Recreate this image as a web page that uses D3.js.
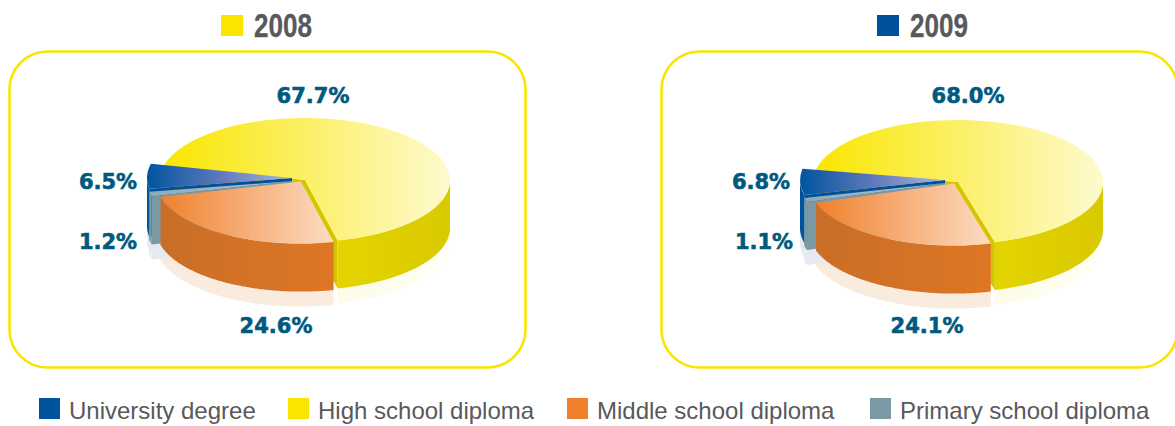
<!DOCTYPE html>
<html>
<head>
<meta charset="utf-8">
<script src="https://cdn.jsdelivr.net/npm/d3@7/dist/d3.min.js"></script>
<style>
  html, body { margin: 0; padding: 0; background: #fff; overflow: hidden; }
  svg { display: block; }
</style>
</head>
<body>
<svg id="chart" width="1175" height="426"></svg>
<script>
// Education level of the workforce, one exploded 3D pie per year.
const categories = ["High school diploma", "Middle school diploma", "Primary school diploma", "University degree"];
const values2008 = [67.7, 24.6, 1.2, 6.5];
const values2009 = [68.0, 24.1, 1.1, 6.8];
const years = ["2008", "2009"];
const yearColors = ["#f9e500", "#00509e"];
const legendOrder = ["University degree", "High school diploma", "Middle school diploma", "Primary school diploma"];

// Per-category paint: top face gradient, outer wall gradient, cut face, reflection.
const paint = {
  "High school diploma":    { top: ["#f9e600", "#fefacf"], wall: ["#e6d800", "#e5d600", "#e3d300", "#d9c900"], cut: "#d5c500", glow: ["#fcfae2", "#fffff4"], key: "#f9e500" },
  "Middle school diploma":  { top: ["#f0812c", "#fcdcc4"], wall: ["#c96e27", "#de7624"], cut: "#c96e27", glow: ["#faebdf", "#faebdf"], key: "#f0812c" },
  "Primary school diploma": { top: ["#8fa9b3", "#b4c5cc"], wall: ["#7a99a5", "#7a99a5"], cut: "#7a99a5", glow: ["#e6eaf0", "#e6eaf0"], key: "#7a99a5" },
  "University degree":      { top: ["#00549f", "#5f78bb", "#aab6de"], wall: ["#00549f", "#00549f"], cut: "#00509a", glow: ["#e6eaf0", "#e6eaf0"], key: "#00549f" }
};

// Placement of each pie: hub, start angle and how far each wedge is pulled from the hub.
const rx = 145, ry = 62, depth = 48, glowDrop = 15;
const pull = { "High school diploma": [0, 0], "Middle school diploma": [-4, 1.6], "Primary school diploma": [-13, 1], "University degree": [-13, -2] };
const pies = [
  { year: 0, values: values2008, cx: 305, cy: 180, start: -76.7, frameX: 9.5,
    labels: [[313, 103], [276, 333], [108, 249], [108, 189]] },
  { year: 1, values: values2009, cx: 958, cy: 182, start: -79.5, frameX: 661.5,
    labels: [[968, 103], [927, 333], [764, 249], [761, 189]] }
];

const svg = d3.select("#chart");
const defs = svg.append("defs");
const ink = "#59595b", labelInk = "#005a80";
const deg = Math.PI / 180;

const topArc = d3.arc().innerRadius(0).outerRadius(1);
const line = d3.line();
const rimX = a => rx * Math.sin(a), rimY = a => -ry * Math.cos(a);

function gradient(id, stops, x0, x1) {
  const g = defs.append("linearGradient").attr("id", id)
    .attr("gradientUnits", "userSpaceOnUse")
    .attr("x1", x0).attr("x2", x1).attr("y1", 0).attr("y2", 0);
  g.selectAll("stop").data(stops).join("stop")
    .attr("offset", (d, i) => i / (stops.length - 1))
    .attr("stop-color", d => d);
  return `url(#${id})`;
}

// Outline of the front stretch of a wedge's rim, extruded by the given height.
function wallPath(a0, a1, h) {
  const from = Math.max(a0, 90 * deg), to = Math.min(a1, 270 * deg);
  if (to <= from) return null;
  const angles = d3.range(from, to, 0.01).concat([to]);
  const upper = angles.map(a => [rimX(a), rimY(a)]);
  const lower = angles.slice().reverse().map(a => [rimX(a), rimY(a) + h]);
  return line(upper.concat(lower)) + "Z";
}

function facePath(a, h) {
  return line([[0, 0], [rimX(a), rimY(a)], [rimX(a), rimY(a) + h], [0, h]]) + "Z";
}

pies.forEach((p, pi) => {
  const g = svg.append("g");
  const color = yearColors[p.year];

  // Rounded frame around the pie
  g.append("rect")
    .attr("x", p.frameX).attr("y", 51.5)
    .attr("width", 516).attr("height", 316)
    .attr("rx", 38).attr("ry", 38)
    .attr("fill", "none").attr("stroke", "#f9e500").attr("stroke-width", 2.6);

  // Year heading with its colour chip
  const headX = pi === 0 ? 221 : 877;
  g.append("rect").attr("x", headX).attr("y", 15).attr("width", 22).attr("height", 21).attr("fill", color);
  g.append("text")
    .attr("transform", `translate(${headX + 33},37) scale(0.79,1)`)
    .attr("font-family", "'Liberation Sans', Arial, sans-serif")
    .attr("font-weight", 700).attr("font-size", 33)
    .attr("fill", ink).attr("stroke", ink).attr("stroke-width", 0.3)
    .text(years[p.year]);

  const rows = categories.map((c, i) => ({ category: c, value: p.values[i] }));
  const arcs = d3.pie().sort(null).value(d => d.value)
    .startAngle(p.start * deg).endAngle((p.start + 360) * deg)(rows);

  // Faded reflections below the walls and cut faces
  arcs.forEach((a, i) => {
    const s = paint[a.data.category], off = pull[a.data.category];
    const layer = g.append("g").attr("transform", `translate(${p.cx + off[0]},${p.cy + off[1]})`);
    const fill = gradient(`y${pi}c${i}g`, s.glow, -rx * 0.2, rx);
    const d = wallPath(a.startAngle, a.endAngle, depth + glowDrop);
    if (d) layer.append("path").attr("d", d).attr("fill", fill);
    if (Math.sin(a.startAngle) < 0) layer.append("path")
      .attr("d", facePath(a.startAngle, depth + glowDrop)).attr("fill", fill);
  });

  // Wedges back to front: high school, university, primary, middle
  [0, 3, 2, 1].forEach(idx => {
    const a = arcs[idx], s = paint[a.data.category], off = pull[a.data.category];
    const w = g.append("g").attr("transform", `translate(${p.cx + off[0]},${p.cy + off[1]})`);
    [[a.startAngle, -1], [a.endAngle, 1]].forEach(([ang, side]) => {
      if (side * Math.sin(ang) > 0) w.append("path").attr("d", facePath(ang, depth)).attr("fill", s.cut);
    });
    const xs = d3.range(a.startAngle, a.endAngle, 0.01).concat([a.endAngle]).map(rimX).concat([0]);
    const id = `y${pi}c${idx}`;
    const wall = wallPath(a.startAngle, a.endAngle, depth);
    if (wall) w.append("path").attr("d", wall)
      .attr("fill", gradient(id + "w", s.wall, d3.min(xs), d3.max(xs)));
    w.append("path")
      .attr("d", topArc({ startAngle: a.startAngle, endAngle: a.endAngle }))
      .attr("transform", `scale(${rx},${ry})`)
      .attr("fill", gradient(id + "t", s.top, d3.min(xs) / rx, d3.max(xs) / rx));
  });

  // Percent labels
  p.values.forEach((v, i) => {
    g.append("text")
      .attr("x", p.labels[i][0]).attr("y", p.labels[i][1])
      .attr("text-anchor", "middle")
      .attr("font-family", "'DejaVu Sans', sans-serif")
      .attr("font-weight", 700).attr("font-size", 21)
      .attr("fill", labelInk).attr("stroke", labelInk).attr("stroke-width", 0.6)
      .text(v.toFixed(1) + "%");
  });
});

// Shared legend along the bottom
const legendX = [39, 288, 567, 870];
const legend = svg.append("g");
legendOrder.forEach((c, i) => {
  legend.append("rect")
    .attr("x", legendX[i]).attr("y", 398).attr("width", 21).attr("height", 21)
    .attr("fill", paint[c].key);
  legend.append("text")
    .attr("x", legendX[i] + 30).attr("y", 419)
    .attr("font-family", "'Liberation Sans', Arial, sans-serif")
    .attr("font-size", 24).attr("fill", ink)
    .text(c);
});
</script>
</body>
</html>
